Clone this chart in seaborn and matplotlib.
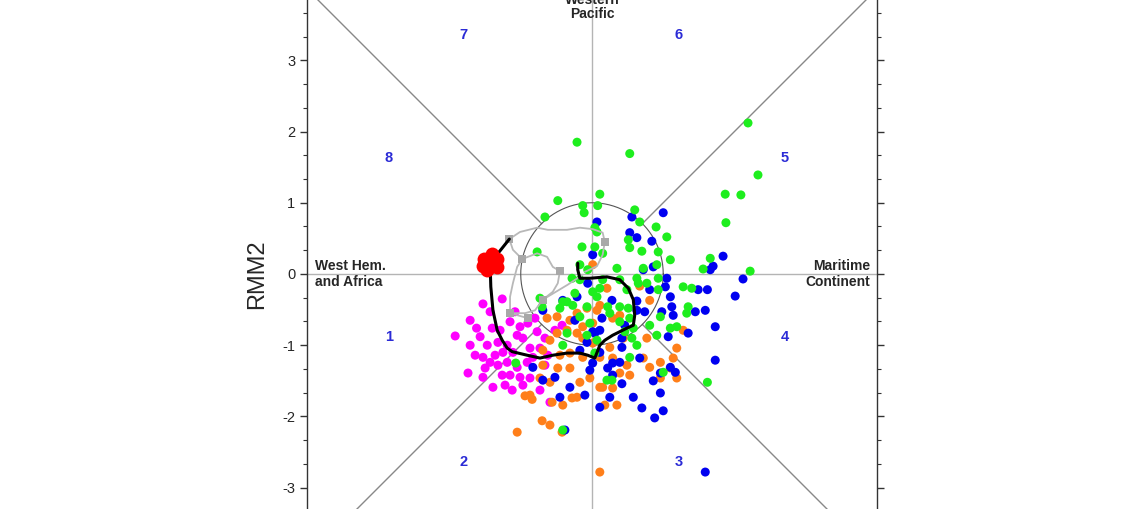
import numpy as np
import pandas as pd
import seaborn as sns
import matplotlib.pyplot as plt
from matplotlib.ticker import MultipleLocator

# ---- data (RMM1, RMM2) ----
magenta_x = [-1.92, -1.74, -1.53, -1.39, -1.53, -1.43, -1.26, -1.62, -1.57, -1.40, -1.15, -1.01, -0.90,
             -0.77, -0.73, -0.87, -0.97, -1.05, -1.19, -1.32, -1.47, -1.53, -1.36, -1.19, -1.05, -0.91,
             -0.83, -1.15, -1.26, -1.01, -0.87, -0.97, -0.59, -1.25, -1.11, -1.32, -1.43, -0.66, -0.80,
             -1.08, -1.29, -1.71, -1.64, -1.50, -0.66, -0.52, -0.62, -1.12, -1.22, -0.73, -0.42, -1.71]
magenta_y = [-0.87, -1.39, -1.45, -1.59, -0.42, -0.53, -0.35, -0.76, -0.88, -0.76, -0.67, -0.74, -0.69,
             -0.81, -1.04, -1.04, -0.90, -0.86, -1.00, -0.96, -1.00, -1.17, -1.14, -1.24, -1.31, -1.24,
             -1.17, -1.42, -1.42, -1.45, -1.46, -1.56, -1.80, -1.10, -1.10, -1.28, -1.24, -0.90, -0.62,
             -0.53, -0.79, -1.00, -1.14, -1.32, -1.28, -0.79, -1.14, -1.63, -1.56, -1.63, -0.72, -0.65]

orange_x = [-1.05, -0.70, -0.59, -0.42, -0.94, -0.84, -0.56, -0.41, -0.28, -0.21, -0.69, -0.48, -0.31,
            -0.17, -0.03, 0.11, -0.69, -0.59, -0.49, -0.35, -0.21, -0.13, 0.01, -0.63, -0.49, -0.31,
            -0.13, 0.01, 0.07, -0.07, -0.21, 0.21, 0.01, -0.45, -0.31, -0.13, 0.11, 0.11, 0.81, 0.11,
            0.29, 0.39, 0.44, 0.77, 1.19, 0.25, 0.29, 0.49, 0.81, 0.96, 1.14, 1.10, 1.19, 0.53, 0.39,
            0.15, 0.29, 0.35, 0.18, 0.96, 0.72, 1.28, -0.59, -0.73, -0.87, 0.67]
orange_y = [-2.22, -2.06, -2.12, -2.22, -1.71, -1.76, -1.80, -1.84, -1.74, -1.73, -1.28, -1.32, -1.32,
            -1.52, -1.46, -2.78, -1.07, -0.93, -0.83, -0.79, -0.83, -0.90, -0.97, -0.62, -0.60, -0.65,
            -0.74, -0.69, -0.51, -0.48, -0.55, -0.20, 0.13, -1.14, -1.11, -1.17, -1.17, -1.59, -0.37,
            -0.44, -0.62, -0.58, -0.90, -0.90, -1.04, -1.03, -1.18, -1.28, -1.31, -1.24, -1.18, -1.32,
            -1.46, -1.42, -1.39, -1.59, -1.60, -1.84, -1.84, -1.46, -1.18, -0.79, -1.52, -1.46, -1.70, -0.17]

blue_x = [1.00, 0.56, 0.07, 0.53, 0.63, 0.84, 0.01, 0.86, 0.72, 1.05, 1.03, 0.81, 1.10, 1.66, 1.70, 1.84,
          2.12, 2.01, 1.62, 1.49, 1.35, 1.07, 1.14, 1.12, 0.98, 0.74, 0.63, 1.73, 1.17, 1.10, 0.96, 0.86,
          0.96, 1.00, 0.88, 0.70, 0.58, 0.42, 0.25, 0.11, -0.10, 0.29, 0.22, 0.29, 0.42, 0.42, 0.67, 0.01,
          0.11, -0.07, 0.04, 0.14, 0.63, 0.39, 1.59, 1.73, 1.59, 1.45, -0.83, -0.69, -0.52, -0.45, -0.31,
          -0.38, -0.03, -0.17, -0.41, -0.69, -0.06, -0.21, 0.11, 0.01, 0.28, 0.46, -0.24]
blue_y = [0.86, 0.80, 0.73, 0.58, 0.51, 0.46, 0.27, 0.10, 0.06, -0.06, -0.18, -0.22, -0.32, 0.06, 0.11,
          0.25, -0.07, -0.31, -0.22, -0.22, -0.83, -0.88, -0.58, -0.46, -0.53, -0.53, -0.51, -1.21, -1.38,
          -1.31, -1.39, -1.50, -1.67, -1.92, -2.02, -1.88, -1.73, -1.54, -1.73, -1.87, -1.70, -1.42, -1.32,
          -1.25, -1.03, -0.90, -1.18, -1.25, -1.10, -0.96, -0.83, -0.62, -0.38, -1.24, -2.78, -0.74, -0.51,
          -0.53, -1.31, -1.49, -1.45, -1.73, -1.59, -2.19, -1.35, -1.07, -0.37, -0.51, -0.13, -0.32, -0.79,
          -0.81, -0.37, -0.72, -0.65]

green_x = [-0.21, 0.53, 2.19, 2.33, 1.87, 2.09, 1.88, 0.11, -0.48, -0.66, -0.13, 0.08, -0.11, -0.77, -0.14,
           0.04, 0.04, 0.07, 0.15, -0.17, -0.28, -0.17, -0.24, -0.35, -0.73, -0.27, -0.07, 0.11, 0.15, 0.01,
           -0.41, 0.07, -0.70, -0.45, -0.17, -0.03, -0.35, -0.07, 0.07, 0.21, -0.41, -1.07, -0.41, 0.60,
           0.67, 0.90, 1.05, 0.51, 0.53, 0.70, 0.93, 0.35, 0.72, 0.91, 1.10, 1.66, 1.56, 2.22, 0.93, 0.63,
           0.65, 0.77, 1.28, 1.40, 0.93, -0.06, 0.39, 0.49, 0.22, 0.25, 0.39, 0.51, 0.39, 0.53, 0.58, 0.46,
           0.81, 0.91, 0.96, 1.10, 1.19, 1.33, 1.35, 0.56, 0.63, 0.53, 0.04, 1.00, 1.62, 0.28]
green_y = [1.85, 1.69, 2.12, 1.39, 1.12, 1.11, 0.72, 1.12, 1.03, 0.80, 0.96, 0.96, 0.86, 0.31, 0.38, 0.38,
           0.65, 0.59, 0.29, 0.13, -0.06, -0.08, -0.27, -0.39, -0.34, -0.44, -0.46, -0.20, -0.08, -0.25,
           -0.39, -0.32, -0.46, -0.48, -0.60, -0.69, -0.83, -0.86, -0.93, -1.49, -1.00, -1.25, -2.19, 0.90,
           0.73, 0.66, 0.52, 0.48, 0.37, 0.32, 0.31, 0.08, 0.08, 0.13, 0.20, 0.22, 0.07, 0.04, -0.06, -0.06,
           -0.13, -0.13, -0.18, -0.20, -0.22, 0.06, -0.08, -0.22, -0.46, -0.55, -0.46, -0.48, -0.67, -0.62,
           -0.76, -0.81, -0.72, -0.86, -0.60, -0.76, -0.74, -0.55, -0.46, -0.90, -1.00, -1.17, -1.11, -1.38,
           -1.52, -1.49]

# red cluster (last days)
red_x = [-1.43, -1.34, -1.52, -1.40, -1.47, -1.33, -1.53, -1.43]
red_y = [0.17, 0.21, 0.21, 0.28, 0.06, 0.10, 0.11, 0.10]

# observed track (black)
track_x = [-1.16, -1.43, -1.42, -1.39, -1.33, -1.26, -1.19, -1.12, -0.91, -0.73, -0.55, -0.35, -0.17, -0.06,
           0.04, 0.11, 0.18, 0.29, 0.49, 0.58, 0.60, 0.58, 0.51, 0.39, 0.21, -0.03, -0.17, -0.20, -0.20]
track_y = [0.49, 0.15, -0.18, -0.51, -0.79, -0.93, -1.04, -1.09, -1.14, -1.18, -1.14, -1.11, -1.11, -1.14,
           -1.18, -1.00, -0.93, -0.86, -0.76, -0.72, -0.58, -0.36, -0.20, -0.08, -0.04, -0.06, -0.06, 0.06,
           0.15]

# forecast tracks (grey)
fc1_x = [-1.16, -1.01, -0.77, -0.62, -0.35, -0.17, 0.01, 0.15, 0.18, 0.15, 0.07, -0.10]
fc1_y = [0.49, 0.59, 0.65, 0.62, 0.62, 0.65, 0.63, 0.58, 0.45, 0.27, 0.11, 0.03]
fc2_x = [-1.16, -1.11, -0.98, -0.77, -0.63, -0.55, -0.45, -0.48, -0.55, -0.69, -0.80, -0.94, -1.15]
fc2_y = [0.49, 0.34, 0.21, 0.29, 0.24, 0.10, 0.04, -0.13, -0.25, -0.36, -0.51, -0.55, -0.55]
fc3_x = [-0.98, -1.05, -1.11, -1.15, -1.15, -0.90]
fc3_y = [0.21, 0.10, -0.13, -0.32, -0.55, -0.62]
fc4_x = [-0.69, -0.34, -0.13]
fc4_y = [-0.36, -0.15, -0.01]
sq_x = [-1.16, -0.98, -0.45, 0.18, -0.69, -1.15, -0.90]
sq_y = [0.49, 0.21, 0.04, 0.45, -0.36, -0.55, -0.62]

phase_names = ['1', '2', '3', '4', '5', '6', '7', '8']
phase_x = [-2.85, -1.80, 1.22, 2.71, 2.71, 1.22, -1.81, -2.85]
phase_y = [-0.88, -2.64, -2.64, -0.88, 1.63, 3.36, 3.36, 1.63]

yticks = [-4, -3, -2, -1, 0, 1, 2, 3, 4]
ytick_labels = ['', '-3', '-2', '-1', '0', '1', '2', '3', '']

sns.set_style('ticks')
plt.rcParams['font.family'] = ['Liberation Sans', 'DejaVu Sans']
plt.rcParams['axes.unicode_minus'] = False

fig = plt.figure(figsize=(11.32, 5.09), dpi=100)
ax = fig.add_axes([0.2712, -0.0982, 0.5035, 1.1198])
ax.set_xlim(-4, 4)
ax.set_ylim(-4, 4)

# phase-space frame
ax.axhline(0, color='#b4b4b4', lw=1.0, zorder=1)
ax.axvline(0, color='#b4b4b4', lw=1.0, zorder=1)
r = np.sqrt(0.5)
for sx, sy in [(1, 1), (-1, 1), (1, -1), (-1, -1)]:
    ax.plot([sx * r, sx * 4], [sy * r, sy * 4], color='#888888', lw=1.0, zorder=1)
t = np.linspace(0, 2 * np.pi, 300)
ax.plot(np.cos(t), np.sin(t), color='#555555', lw=0.8, zorder=1)

pts = pd.concat([
    pd.DataFrame({'x': magenta_x, 'y': magenta_y, 'grp': 'm'}),
    pd.DataFrame({'x': orange_x, 'y': orange_y, 'grp': 'o'}),
    pd.DataFrame({'x': blue_x, 'y': blue_y, 'grp': 'b'}),
    pd.DataFrame({'x': green_x, 'y': green_y, 'grp': 'g'}),
])
pal = {'m': '#ff00ff', 'o': '#ff7f1a', 'b': '#0000f0', 'g': '#1eee1e'}
sns.scatterplot(data=pts, x='x', y='y', hue='grp', palette=pal, s=42, linewidth=0,
                legend=False, ax=ax, zorder=2)

for fx, fy in [(fc1_x, fc1_y), (fc2_x, fc2_y), (fc3_x, fc3_y), (fc4_x, fc4_y)]:
    ax.plot(fx, fy, color='#b8b8b8', lw=1.3, zorder=3)
ax.scatter(sq_x, sq_y, marker='s', s=30, color='#a8a8a8', linewidth=0, zorder=3)

ax.plot(track_x, track_y, color='black', lw=2.2, zorder=4, solid_capstyle='round')
ax.scatter(red_x, red_y, marker='o', s=100, color='#ff0000', linewidth=0, zorder=5)

for name, px, py in zip(phase_names, phase_x, phase_y):
    ax.text(px, py, name, color='#2b2bd6', fontsize=10.5, fontweight='bold', ha='center', va='center')

ax.text(0, 3.75, 'Western\nPacific', ha='center', va='center', fontsize=10, fontweight='bold',
        linespacing=1.0)
ax.text(-3.89, 0.0, 'West Hem.\nand Africa', ha='left', va='center', fontsize=10, fontweight='bold',
        linespacing=1.15)
ax.text(3.90, 0.0, 'Maritime\nContinent', ha='right', va='center', fontsize=10, fontweight='bold',
        linespacing=1.15)

ax.set_yticks(yticks)
ax.set_yticklabels(ytick_labels)
ax.yaxis.set_minor_locator(MultipleLocator(1 / 3))
ax.xaxis.set_major_locator(MultipleLocator(1))
ax.xaxis.set_minor_locator(MultipleLocator(1 / 3))
ax.tick_params(which='both', direction='out', left=True, right=True, top=True, bottom=True,
               labelright=False, labelbottom=False, color='#333333')
ax.tick_params(which='major', length=5, width=1, labelsize=10.5)
ax.tick_params(which='minor', length=3, width=0.8)
for sp in ax.spines.values():
    sp.set_visible(True)
    sp.set_color('#333333')
    sp.set_linewidth(1.0)
ax.set_ylabel('RMM2', fontsize=17, labelpad=10)

fig.savefig('out.png', dpi=100)
